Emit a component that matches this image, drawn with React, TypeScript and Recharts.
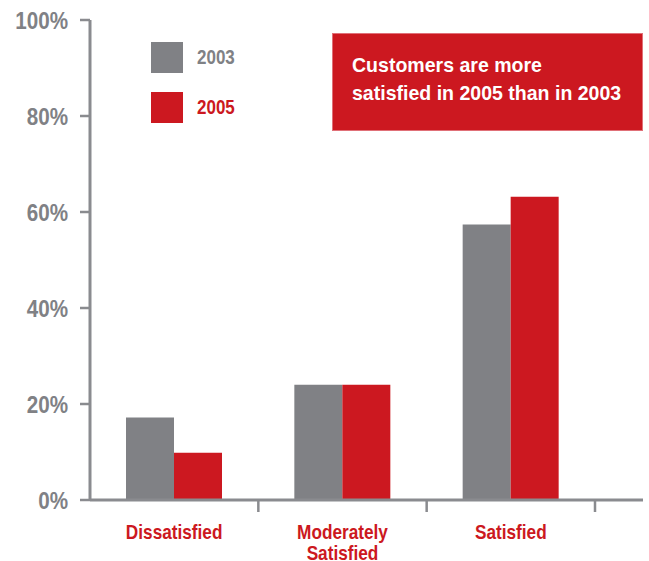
import React from "react";
import { BarChart, Bar, XAxis, YAxis } from "recharts";

const categories = ["Dissatisfied", "Moderately\nSatisfied", "Satisfied"];
const values2003 = [17.2, 24.0, 57.4];
const values2005 = [9.85, 24.0, 63.2];
const yTicks = [0, 20, 40, 60, 80, 100];
const seriesNames = ["2003", "2005"];
const note = ["Customers are more", "satisfied in 2005 than in 2003"];

const GRAY = "#808185";
const RED = "#CC1820";
const AXIS = "#8a8b8f";
const FONT = "'Liberation Sans', Arial, sans-serif";

const W = 649;
const H = 561;
const M = { top: 20, right: 6, bottom: 0, left: 0 };
const YW = 90;
const XH = 61;
const PAD_RIGHT = 48;
const plotW = W - M.left - M.right - YW;
const band = (plotW - PAD_RIGHT) / categories.length;

const data = categories.map((c, i) => ({ name: c, y2003: values2003[i], y2005: values2005[i] }));

const XTick = (props: any) => {
  const { x, y, payload } = props;
  const lines = String(payload.value).split("\n");
  const bx = x + band / 2;
  const axisY = H - M.bottom - XH;
  return (
    <g>
      <line x1={bx} y1={axisY} x2={bx} y2={axisY + 12} stroke={AXIS} strokeWidth={2.5} />
      <g transform={`translate(${x},${axisY}) scale(0.82,1)`}>
        <text x={0} y={0} textAnchor="middle" fill={RED} fontFamily={FONT} fontWeight="bold" fontSize={21}>
          {lines.map((l, i) => (
            <tspan key={i} x={0} dy={i === 0 ? 39.5 : 20.5}>{l}</tspan>
          ))}
        </text>
      </g>
    </g>
  );
};

const YTick = (props: any) => {
  const { x, y, payload } = props;
  return (
    <g transform={`translate(${x},${y}) scale(0.86,1)`}>
      <text x={0} y={0} dy={8.5} textAnchor="end" fill={GRAY} fontFamily={FONT} fontWeight="bold" fontSize={24}>
        {`${payload.value}%`}
      </text>
    </g>
  );
};

export default function App() {
  return (
    <div style={{ position: "absolute", left: 0, top: 0, width: W, height: H, background: "#fff", overflow: "hidden" }}>
      <BarChart width={W} height={H} data={data} margin={M} barGap={0}>
        <XAxis
          dataKey="name"
          height={XH}
          padding={{ left: 0, right: PAD_RIGHT }}
          tickLine={false}
          axisLine={{ stroke: AXIS, strokeWidth: 3 }}
          tick={<XTick />}
          interval={0}
        />
        <YAxis
          width={YW}
          domain={[0, 100]}
          ticks={yTicks}
          interval={0}
          axisLine={{ stroke: AXIS, strokeWidth: 3 }}
          tickLine={{ stroke: AXIS, strokeWidth: 2.5 }}
          tickSize={10}
          tickMargin={12}
          tick={<YTick />}
        />
        <Bar dataKey="y2003" fill={GRAY} barSize={48} isAnimationActive={false} />
        <Bar dataKey="y2005" fill={RED} barSize={48} isAnimationActive={false} />
      </BarChart>
      {seriesNames.map((s, i) => (
        <div key={s} style={{ position: "absolute", left: 151, top: 42 + i * 50, height: 31, display: "flex", alignItems: "center" }}>
          <div style={{ width: 32, height: 31, background: i === 0 ? GRAY : RED }} />
          <span
            style={{
              marginLeft: 14,
              fontFamily: FONT,
              fontWeight: "bold",
              fontSize: 20,
              color: i === 0 ? GRAY : RED,
              display: "inline-block",
              transform: "scaleX(0.85)",
              transformOrigin: "left center",
            }}
          >
            {s}
          </span>
        </div>
      ))}
      <div
        style={{
          position: "absolute",
          left: 332,
          top: 33,
          width: 311,
          height: 98,
          boxSizing: "border-box",
          background: RED,
          border: "1px solid #e07078",
          padding: "17px 0 0 19px",
          color: "#fff",
          fontFamily: FONT,
          fontWeight: "bold",
          fontSize: 21,
          lineHeight: "28px",
        }}
      >
        {note.map((l) => (
          <div key={l} style={{ whiteSpace: "nowrap", transform: "scaleX(0.93)", transformOrigin: "left center" }}>{l}</div>
        ))}
      </div>
    </div>
  );
}
